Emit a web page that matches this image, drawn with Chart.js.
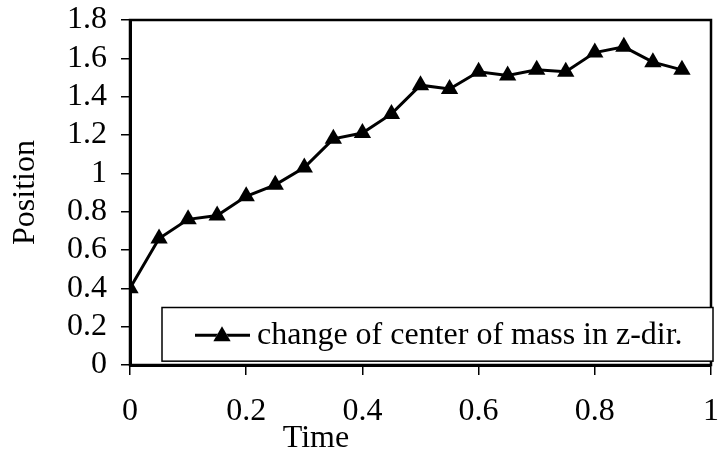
<!DOCTYPE html>
<html>
<head>
<meta charset="utf-8">
<script src="https://cdn.jsdelivr.net/npm/chart.js@4"></script>
<style>
  html, body { margin: 0; padding: 0; background: #fff; }
  #wrap { width: 721px; height: 456px; }
</style>
</head>
<body>
<div id="wrap"><canvas id="myChart" width="721" height="456"></canvas></div>
<script>
/** Data **/
const timeValues = [0, 0.05, 0.1, 0.15, 0.2, 0.25, 0.3, 0.35, 0.4, 0.45,
  0.5, 0.55, 0.6, 0.65, 0.7, 0.75, 0.8, 0.85, 0.9, 0.95];
const positionValues = [0.40, 0.66, 0.76, 0.78, 0.88, 0.94, 1.03, 1.18, 1.21, 1.31,
  1.46, 1.44, 1.53, 1.51, 1.54, 1.53, 1.63, 1.66, 1.58, 1.54];
const seriesLabel = "change of center of mass in z-dir.";
const xTitle = "Time";
const yTitle = "Position";

const serif = "'Liberation Serif', 'Times New Roman', serif";
const fontSize = 32;

//  Build {x, y} points for the scatter line
let points = timeValues.map((t, i) => ({ x: t, y: positionValues[i] }));

//  Tick text like 0, 0.2, 1 (no trailing zeros)
function tickText(value) {
  return String(Number(value.toFixed(1)));
}

/** Plugin drawing the plot frame, the boxed legend and the x title **/
const extras = {
  id: "extras",
  afterDatasetsDraw(chart) {
    const ctx = chart.ctx;
    const a = chart.chartArea;
    ctx.save();

    //  Frame round the plot area
    ctx.strokeStyle = "#000";
    ctx.lineWidth = 2.5;
    ctx.strokeRect(a.left, a.top, a.right - a.left, a.bottom - a.top);

    //  Legend box
    const x = chart.scales.x;
    const y = chart.scales.y;
    const bx = a.left + 32, by = y.getPixelForValue(0.30);
    const bw = a.right + 2 - bx, bh = y.getPixelForValue(0.02) - by;
    ctx.fillStyle = "#fff";
    ctx.fillRect(bx, by, bw, bh);
    ctx.lineWidth = 1.5;
    ctx.strokeRect(bx, by, bw, bh);

    //  Legend sample: line with a triangle
    const ly = by + bh / 2 + 1;
    ctx.lineWidth = 3;
    ctx.beginPath();
    ctx.moveTo(bx + 33, ly);
    ctx.lineTo(bx + 88, ly);
    ctx.stroke();
    Chart.helpers.drawPoint(ctx, { pointStyle: "triangle", radius: 10, rotation: 0 }, bx + 60, ly + 1);
    ctx.fillStyle = "#000";
    ctx.fill();

    ctx.font = fontSize + "px " + serif;
    ctx.textBaseline = "middle";
    ctx.textAlign = "left";
    ctx.fillText(seriesLabel, bx + 95, ly);

    //  X axis title, sitting just under the tick labels
    ctx.textAlign = "center";
    ctx.textBaseline = "alphabetic";
    ctx.fillText(xTitle, x.getPixelForValue(0.32), 447);

    ctx.restore();
  },
};

const ctx = document.getElementById("myChart");

let myChart = new Chart(ctx, {
  type: "scatter",
  data: {
    datasets: [
      {
        label: seriesLabel,
        data: points,
        showLine: true,
        borderColor: "#000",
        backgroundColor: "#000",
        borderWidth: 3,
        pointStyle: "triangle",
        pointRadius: 10,
        pointBorderWidth: 0,
      },
    ],
  },
  options: {
    responsive: false,
    animation: false,
    layout: { padding: { left: 0, right: 10, top: 20, bottom: 0 } },
    plugins: {
      legend: { display: false },
      tooltip: { enabled: false },
    },
    scales: {
      x: {
        type: "linear",
        min: 0,
        max: 1,
        ticks: {
          stepSize: 0.2,
          autoSkip: false,
          color: "#000",
          font: { family: serif, size: fontSize },
          padding: 17,
          maxRotation: 0,
          callback: tickText,
        },
        grid: {
          drawOnChartArea: false,
          drawTicks: true,
          tickLength: 10,
          color: "#000",
          lineWidth: 1.5,
        },
        border: { display: true, color: "#000", width: 3 },
        afterFit(scale) {
          scale.height = 91;
          scale.paddingLeft = 0;
          scale.paddingRight = 0;
        },
      },
      y: {
        min: 0,
        max: 1.8,
        ticks: {
          stepSize: 0.2,
          autoSkip: false,
          color: "#000",
          font: { family: serif, size: fontSize },
          padding: 14,
          callback: tickText,
        },
        grid: {
          drawOnChartArea: false,
          drawTicks: true,
          tickLength: 9,
          color: "#000",
          lineWidth: 1.5,
        },
        border: { display: true, color: "#000", width: 3 },
        title: {
          display: true,
          text: yTitle,
          color: "#000",
          font: { family: serif, size: fontSize },
          padding: { top: 6, bottom: 0 },
        },
        afterFit(scale) {
          scale.width = 130;
          scale.paddingTop = 0;
          scale.paddingBottom = 0;
        },
      },
    },
  },
  plugins: [extras],
});
</script>
</body>
</html>
